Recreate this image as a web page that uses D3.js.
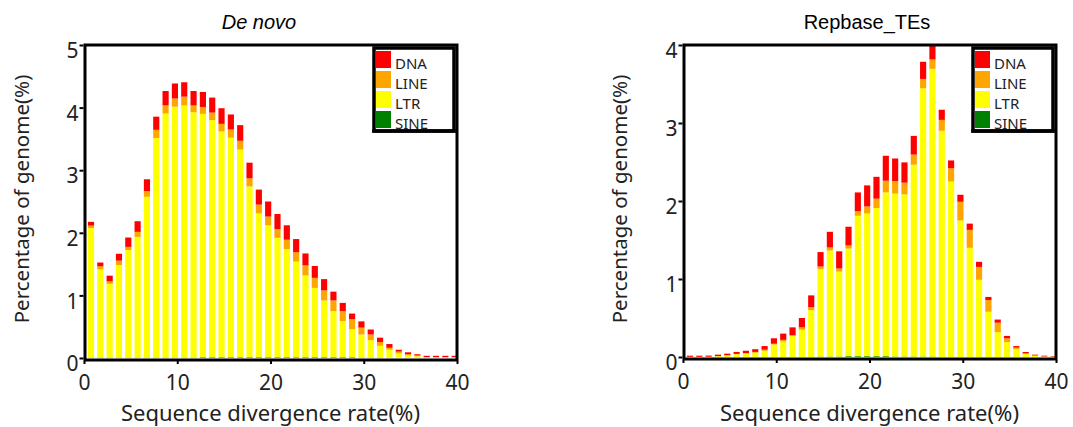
<!DOCTYPE html>
<html>
<head>
<meta charset="utf-8">
<script src="https://cdn.jsdelivr.net/npm/d3@7"></script>
<style>
  body { margin: 0; background: #fff; }
  svg { display: block; }
</style>
</head>
<body>
<svg class="te-chart"></svg>
<script>
// divergence bins 0..39 (%)
var bins = d3.range(40);
var types = ["SINE", "LTR", "LINE", "DNA"];
var legendTypes = ["DNA", "LINE", "LTR", "SINE"];
var colors = { DNA: "#ff0000", LINE: "#ffa500", LTR: "#ffff00", SINE: "#008000" };

// ---- De novo ----
var novoLTR = [2.07, 1.41, 1.18, 1.48, 1.72, 1.93, 2.57, 3.51, 3.90, 4.01,
    4.03, 3.92, 3.89, 3.79, 3.61, 3.51, 3.32, 2.73, 2.30, 2.11,
    1.91, 1.73, 1.53, 1.31, 1.11, 0.91, 0.74, 0.58, 0.45, 0.37,
    0.28, 0.19, 0.13, 0.07, 0.04, 0.03, 0.01, 0.01, 0.01, 0.01];
var novoLINE = [0.04, 0.05, 0.04, 0.07, 0.05, 0.08, 0.09, 0.13, 0.13, 0.13,
    0.14, 0.11, 0.11, 0.12, 0.12, 0.13, 0.14, 0.13, 0.14, 0.14,
    0.14, 0.15, 0.15, 0.16, 0.16, 0.16, 0.17, 0.16, 0.16, 0.11,
    0.09, 0.06, 0.03, 0.03, 0.02, 0.01, 0.005, 0.005, 0.005, 0.005];
var novoDNA = [0.06, 0.06, 0.09, 0.11, 0.15, 0.17, 0.19, 0.21, 0.23, 0.24,
    0.23, 0.23, 0.24, 0.24, 0.25, 0.24, 0.25, 0.25, 0.24, 0.24,
    0.24, 0.23, 0.21, 0.19, 0.19, 0.18, 0.14, 0.13, 0.09, 0.10,
    0.08, 0.07, 0.06, 0.03, 0.03, 0.02, 0.02, 0.02, 0.02, 0.02];
var novoSINE = [0.005, 0.005, 0.005, 0.005, 0.005, 0.005, 0.005, 0.005, 0.005, 0.005,
    0.005, 0.005, 0.01, 0.01, 0.01, 0.01, 0.01, 0.01, 0.01, 0.01,
    0.01, 0.01, 0.01, 0.01, 0.01, 0.01, 0.01, 0.01, 0.01, 0.005,
    0.005, 0.005, 0.003, 0.002, 0.001, 0, 0, 0, 0, 0];
var novoTicksY = [0, 1, 2, 3, 4, 5];

// ---- Repbase_TEs ----
var repLTR = [0.002, 0.002, 0.003, 0.01, 0.02, 0.035, 0.045, 0.055, 0.08, 0.16,
    0.20, 0.27, 0.35, 0.60, 1.12, 1.36, 1.09, 1.38, 1.80, 1.83,
    1.90, 2.10, 2.09, 2.08, 2.46, 3.44, 3.69, 2.90, 2.25, 1.75,
    1.40, 0.99, 0.58, 0.32, 0.19, 0.10, 0.04, 0.017, 0.005, 0.002];
var repLINE = [0, 0, 0, 0.002, 0.003, 0.005, 0.005, 0.01, 0.014, 0.01,
    0.02, 0.01, 0.03, 0.04, 0.035, 0.04, 0.04, 0.04, 0.06, 0.09,
    0.12, 0.15, 0.16, 0.15, 0.13, 0.12, 0.12, 0.14, 0.17, 0.24,
    0.23, 0.165, 0.15, 0.12, 0.05, 0.02, 0.007, 0.003, 0.002, 0.001];
var repDNA = [0.015, 0.015, 0.015, 0.018, 0.02, 0.025, 0.03, 0.035, 0.046, 0.07,
    0.08, 0.10, 0.12, 0.15, 0.185, 0.20, 0.22, 0.24, 0.24, 0.27,
    0.28, 0.32, 0.29, 0.26, 0.24, 0.22, 0.19, 0.13, 0.10, 0.09,
    0.08, 0.065, 0.04, 0.04, 0.03, 0.02, 0.017, 0.01, 0.01, 0.007];
var repSINE = [0, 0, 0, 0, 0, 0, 0, 0, 0, 0,
    0, 0, 0, 0, 0.005, 0.005, 0.005, 0.01, 0.01, 0.01,
    0.01, 0.01, 0.005, 0.005, 0.005, 0.005, 0.005, 0, 0, 0,
    0, 0, 0, 0, 0, 0, 0, 0, 0, 0];
var repTicksY = [0, 1, 2, 3, 4];

var ticksX = [0, 10, 20, 30, 40];

var svgWidth = 1073, svgHeight = 427;
var svg = d3.select("svg.te-chart")
    .attr("width", svgWidth)
    .attr("height", svgHeight);

var textFont = "'Noto Sans', 'Open Sans', sans-serif";

function drawPanel(p) {
    var xScale = d3.scaleLinear().domain([0, 40]).range([p.x0, p.x1]);
    var yScale = d3.scaleLinear().domain([0, p.yMax]).range([p.yBottom, p.yTop]);

    var rows = bins.map(function (b, i) {
        return { bin: b, SINE: p.SINE[i], LTR: p.LTR[i], LINE: p.LINE[i], DNA: p.DNA[i] };
    });
    var stacked = d3.stack().keys(types)(rows);

    var g = svg.append("g");

    g.selectAll("g.layer")
        .data(stacked)
        .enter()
        .append("g")
        .attr("class", "layer")
        .attr("fill", function (d) { return colors[d.key]; })
        .selectAll("rect")
        .data(function (d) { return d; })
        .enter()
        .append("rect")
        .attr("x", function (d) { return xScale(d.data.bin + 0.42); })
        .attr("width", xScale(0.66) - xScale(0))
        .attr("y", function (d) { return yScale(Math.min(d[1], p.yMax)); })
        .attr("height", function (d) {
            return Math.max(0, yScale(d[0]) - yScale(Math.min(d[1], p.yMax)));
        });

    // frame round the plot
    g.append("rect")
        .attr("x", p.x0 + 1)
        .attr("y", p.yTop)
        .attr("width", p.x1 - p.x0 - 1)
        .attr("height", p.yBottom + 2 - p.yTop)
        .attr("fill", "none")
        .attr("stroke", "#000")
        .attr("stroke-width", 3);

    var yAxis = g.append("g")
        .attr("transform", "translate(" + (p.x0 - 0.5) + ",0)")
        .call(d3.axisLeft(yScale).tickValues(p.ticksY).tickFormat(d3.format("d"))
            .tickSize(4).tickSizeOuter(0).tickPadding(1));
    yAxis.select(".domain").remove();
    yAxis.selectAll("line").attr("stroke-width", 2);
    yAxis.selectAll("text")
        .style("font-family", textFont)
        .style("font-size", "21px")
        .attr("fill", "#222")
        .attr("dy", "0.6em");

    var xAxis = g.append("g")
        .attr("transform", "translate(0," + (p.yBottom + 3) + ")")
        .call(d3.axisBottom(xScale).tickValues(ticksX).tickFormat(d3.format("d"))
            .tickSize(3).tickSizeOuter(0).tickPadding(11));
    xAxis.select(".domain").remove();
    xAxis.selectAll("line").attr("stroke-width", 2);
    xAxis.selectAll("text")
        .style("font-family", textFont)
        .style("font-size", "21px")
        .attr("fill", "#222");

    // title
    svg.append("text")
        .attr("x", p.titleX)
        .attr("y", 29)
        .attr("text-anchor", "middle")
        .style("font-family", "'Liberation Sans', Arial, sans-serif")
        .style("font-size", "20px")
        .style("font-style", p.italic ? "italic" : "normal")
        .text(p.title);

    // axis titles
    svg.append("text")
        .attr("x", (p.x0 + p.x1) / 2)
        .attr("y", 421)
        .attr("text-anchor", "middle")
        .style("font-family", textFont)
        .style("font-size", "22px")
        .attr("fill", "#222")
        .text("Sequence divergence rate(%)");

    svg.append("text")
        .attr("text-anchor", "middle")
        .attr("transform", "translate(" + p.yLabelX + ",199)rotate(-90)")
        .style("font-family", textFont)
        .style("font-size", "20.5px")
        .attr("fill", "#222")
        .text("Percentage of genome(%)");

    // legend
    var lg = svg.append("g").attr("transform", "translate(" + p.legendX + ",48)");
    lg.append("rect")
        .attr("x", 0).attr("y", 0)
        .attr("width", 80).attr("height", 83)
        .attr("fill", "#fff")
        .attr("stroke", "#000")
        .attr("stroke-width", 3.5);
    lg.selectAll("rect.key")
        .data(legendTypes)
        .enter()
        .append("rect")
        .attr("class", "key")
        .attr("x", 2)
        .attr("y", function (d, i) { return 3 + i * 20; })
        .attr("width", 15)
        .attr("height", 17)
        .attr("fill", function (d) { return colors[d]; });
    lg.selectAll("text")
        .data(legendTypes)
        .enter()
        .append("text")
        .attr("x", 21)
        .attr("y", function (d, i) { return 21 + i * 20; })
        .style("font-family", textFont)
        .style("font-size", "15px")
        .attr("fill", "#222")
        .text(function (d) { return d; });
    // bottom border drawn over the last label, like the original
    lg.append("line")
        .attr("x1", -1.75).attr("x2", 81.75)
        .attr("y1", 83).attr("y2", 83)
        .attr("stroke", "#000")
        .attr("stroke-width", 3.5);
}

drawPanel({
    x0: 84, x1: 457, yTop: 45, yBottom: 358, yMax: 5,
    SINE: novoSINE, LTR: novoLTR, LINE: novoLINE, DNA: novoDNA,
    ticksY: novoTicksY, title: "De novo", italic: true, titleX: 259,
    yLabelX: 29, legendX: 374
});

drawPanel({
    x0: 683, x1: 1056, yTop: 45, yBottom: 357, yMax: 4,
    SINE: repSINE, LTR: repLTR, LINE: repLINE, DNA: repDNA,
    ticksY: repTicksY, title: "Repbase_TEs", italic: false, titleX: 867,
    yLabelX: 627, legendX: 973
});
</script>
</body>
</html>
